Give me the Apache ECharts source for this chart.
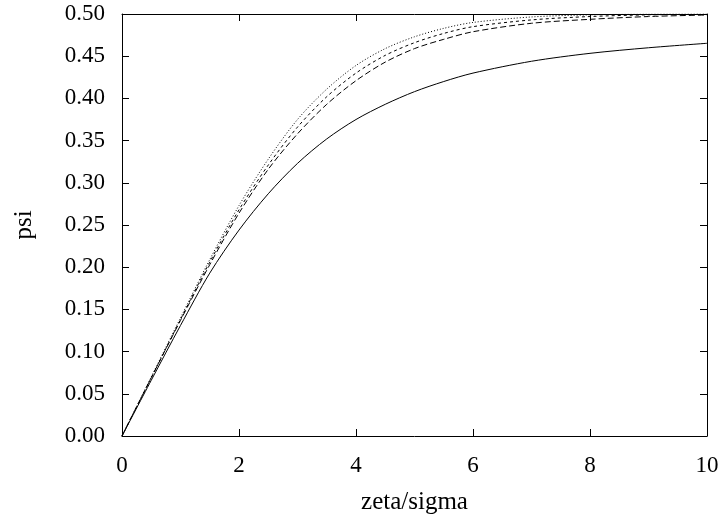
<!DOCTYPE html>
<html>
<head>
<meta charset="utf-8">
<script src="https://cdn.jsdelivr.net/npm/echarts@6/dist/echarts.min.js"></script>
<style>
  html, body { margin: 0; padding: 0; background: #fff; }
  #chart { width: 721px; height: 514px; }
</style>
</head>
<body>
<div id="chart"></div>
<script>
// zeta/sigma sample points
const xs = [0, 0.5, 1, 1.5, 2, 2.5, 3, 3.5, 4, 4.5, 5, 5.5, 6, 7, 8, 9, 10]

// psi values, one array per curve
const psiSolid  = [0, 0.066, 0.131, 0.193, 0.244, 0.287, 0.323, 0.352, 0.375, 0.393, 0.408, 0.420, 0.430, 0.444, 0.4534, 0.460, 0.4653]
const psiDashed = [0, 0.069, 0.137, 0.203, 0.264, 0.316, 0.358, 0.393, 0.421, 0.443, 0.459, 0.470, 0.479, 0.489, 0.4937, 0.497, 0.4988]
const psiShort  = [0, 0.069, 0.138, 0.206, 0.268, 0.321, 0.366, 0.402, 0.430, 0.451, 0.466, 0.477, 0.485, 0.493, 0.497, 0.499, 0.4995]
const psiDotted = [0, 0.070, 0.140, 0.209, 0.273, 0.328, 0.375, 0.411, 0.439, 0.459, 0.473, 0.483, 0.490, 0.4965, 0.499, 0.4998, 0.500]

const font = 'Liberation Serif, Times New Roman, serif'
const pairs = ys => xs.map((x, i) => [x, ys[i]])

const chart = echarts.init(document.getElementById('chart'))

const tick = { show: true, inside: true, length: 7, lineStyle: { color: '#000', width: 1 } }
const line = { show: true, onZero: false, lineStyle: { color: '#000', width: 1 } }

function curve(ys, type) {
  return {
    type: 'line',
    data: pairs(ys),
    smooth: 0.3,
    showSymbol: false,
    silent: true,
    lineStyle: { color: '#000', width: 1, type: type }
  }
}

chart.setOption({
  animation: false,
  grid: { left: 122, right: 14, top: 14, bottom: 78, outerBoundsMode: 'none' },
  xAxis: [
    {
      type: 'value', min: 0, max: 10, interval: 2,
      name: 'zeta/sigma', nameLocation: 'middle', nameGap: 54,
      nameTextStyle: { fontFamily: font, fontSize: 25, color: '#000' },
      axisLine: line, axisTick: tick, splitLine: { show: false },
      axisLabel: { fontFamily: font, fontSize: 23, color: '#000', margin: 18 }
    },
    {
      type: 'value', position: 'top', min: 0, max: 10, interval: 2,
      axisLine: line, axisTick: tick, splitLine: { show: false },
      axisLabel: { show: false }
    }
  ],
  yAxis: [
    {
      type: 'value', min: 0, max: 0.5, interval: 0.05,
      name: 'psi', nameLocation: 'middle', nameGap: 85,
      nameTextStyle: { fontFamily: font, fontSize: 25, color: '#000' },
      axisLine: line, axisTick: tick, splitLine: { show: false },
      axisLabel: { fontFamily: font, fontSize: 23, color: '#000', margin: 17,
        formatter: v => v.toFixed(2) }
    },
    {
      type: 'value', position: 'right', min: 0, max: 0.5, interval: 0.05,
      axisLine: line, axisTick: tick, splitLine: { show: false },
      axisLabel: { show: false }
    }
  ],
  series: [
    curve(psiSolid, 'solid'),
    curve(psiDashed, [6, 3]),
    curve(psiShort, [3, 3]),
    curve(psiDotted, [1, 2])
  ]
})
</script>
</body>
</html>
